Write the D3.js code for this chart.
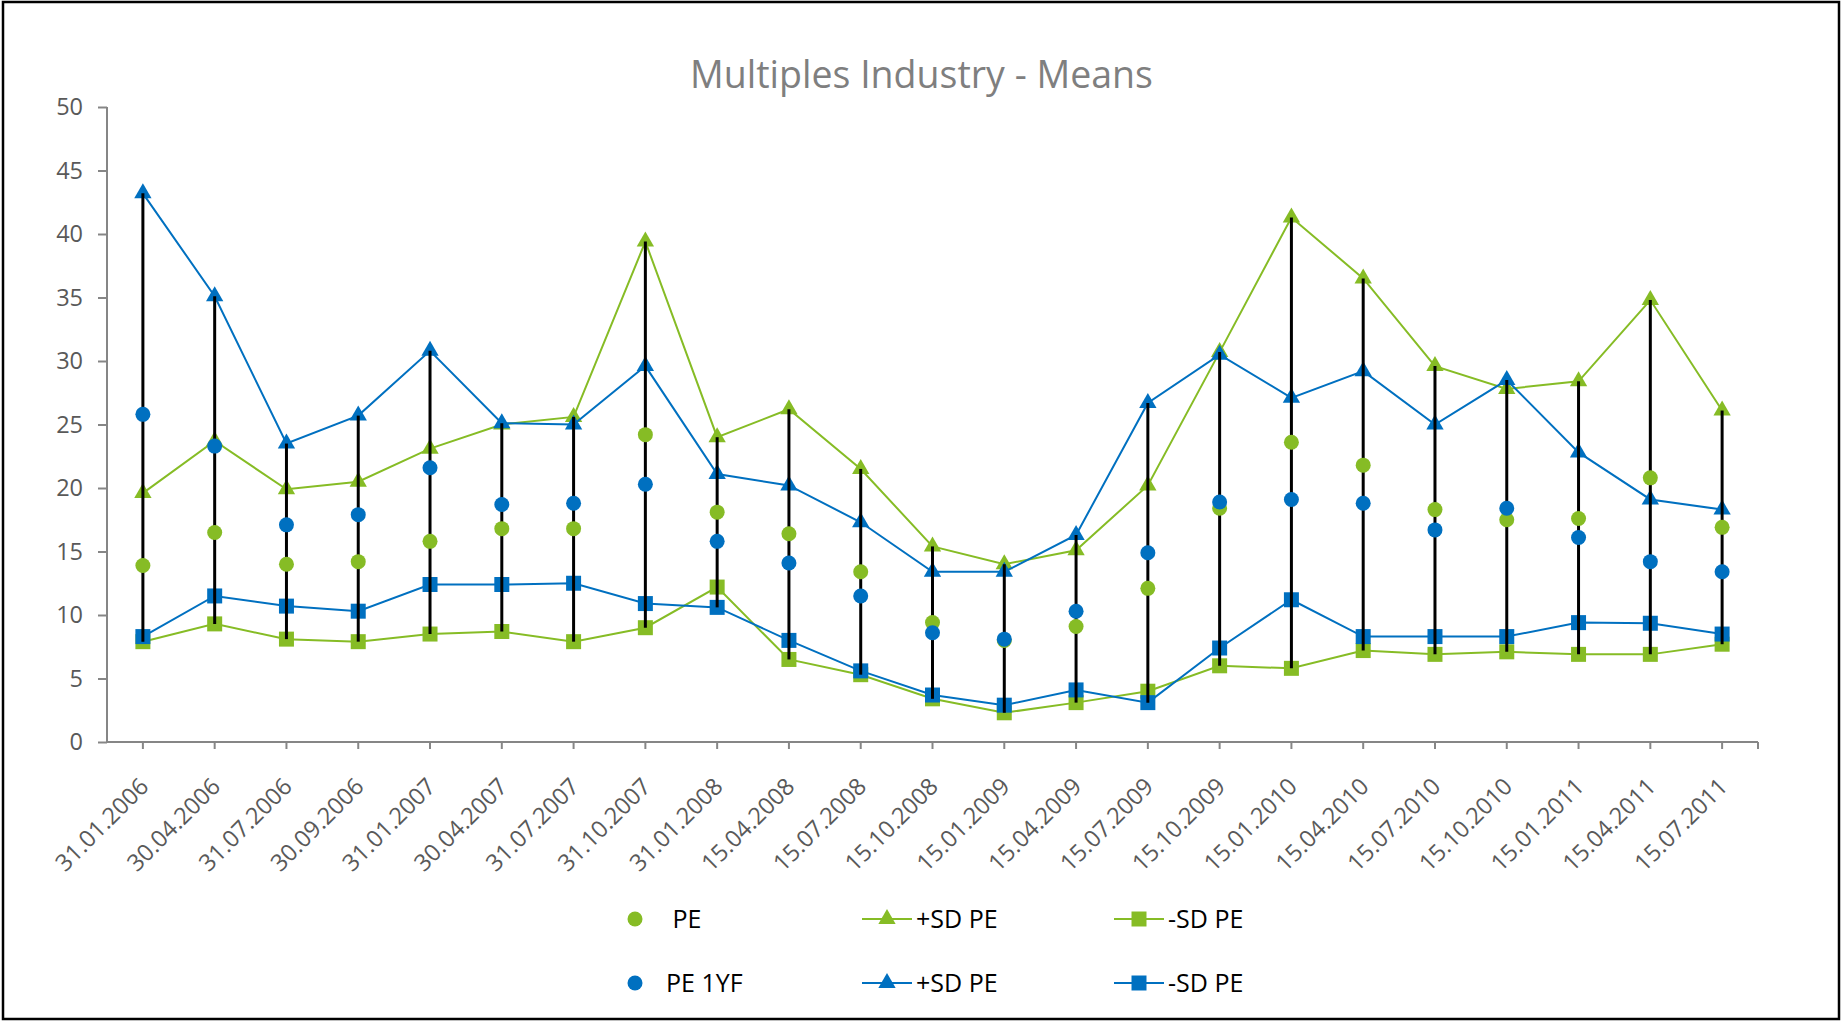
<!DOCTYPE html>
<html>
<head>
<meta charset="utf-8">
<script src="https://cdn.jsdelivr.net/npm/d3@7"></script>
<style>
  body { margin: 0; background: #fff; }
  svg { display: block; font-family: "Open Sans", sans-serif; }
  .legend text { white-space: pre; }
</style>
</head>
<body>
<svg id="chart" width="1843" height="1022"></svg>
<script>
// dates on the x axis
let dates = ['31.01.2006', '30.04.2006', '31.07.2006', '30.09.2006', '31.01.2007', '30.04.2007',
    '31.07.2007', '31.10.2007', '31.01.2008', '15.04.2008', '15.07.2008', '15.10.2008',
    '15.01.2009', '15.04.2009', '15.07.2009', '15.10.2009', '15.01.2010', '15.04.2010',
    '15.07.2010', '15.10.2010', '15.01.2011', '15.04.2011', '15.07.2011'];

let pe = [13.9, 16.5, 14.0, 14.2, 15.8, 16.8, 16.8, 24.2, 18.1, 16.4, 13.4, 9.4,
    8.0, 9.1, 12.1, 18.4, 23.6, 21.8, 18.3, 17.5, 17.6, 20.8, 16.9];
let pePlusSd = [19.6, 23.7, 19.9, 20.5, 23.1, 25.0, 25.6, 39.4, 24.0, 26.2, 21.5, 15.4,
    14.0, 15.1, 20.2, 30.7, 41.3, 36.5, 29.6, 27.8, 28.4, 34.8, 26.1];
let peMinusSd = [7.9, 9.3, 8.1, 7.9, 8.5, 8.7, 7.9, 9.0, 12.2, 6.5, 5.3, 3.4,
    2.3, 3.1, 4.0, 6.0, 5.8, 7.2, 6.9, 7.1, 6.9, 6.9, 7.7];

let pe1yf = [25.8, 23.3, 17.1, 17.9, 21.6, 18.7, 18.8, 20.3, 15.8, 14.1, 11.5, 8.6,
    8.1, 10.3, 14.9, 18.9, 19.1, 18.8, 16.7, 18.4, 16.1, 14.2, 13.4];
let pe1yfPlusSd = [43.2, 35.1, 23.5, 25.7, 30.8, 25.1, 25.0, 29.6, 21.1, 20.2, 17.3, 13.4,
    13.4, 16.3, 26.7, 30.5, 27.1, 29.2, 25.0, 28.5, 22.8, 19.1, 18.3];
let pe1yfMinusSd = [8.3, 11.5, 10.7, 10.3, 12.4, 12.4, 12.5, 10.9, 10.6, 8.0, 5.6, 3.7,
    2.9, 4.1, 3.1, 7.4, 11.2, 8.3, 8.3, 8.3, 9.4, 9.35, 8.5];

let yTicks = [0, 5, 10, 15, 20, 25, 30, 35, 40, 45, 50];

const green = '#86bc25';
const blue = '#0070c0';

// line series (with markers), drawn green first, blue after
let lineSeries = [
    {name: '+SD PE', values: pePlusSd, color: green, symbol: d3.symbolTriangle, size: 130},
    {name: '-SD PE', values: peMinusSd, color: green, symbol: d3.symbolSquare, size: 225},
    {name: '+SD PE', values: pe1yfPlusSd, color: blue, symbol: d3.symbolTriangle, size: 130},
    {name: '-SD PE', values: pe1yfMinusSd, color: blue, symbol: d3.symbolSquare, size: 225}
];
// marker only series
let dotSeries = [
    {name: ' PE', values: pe, color: green},
    {name: 'PE 1YF', values: pe1yf, color: blue}
];

let svg = d3.select('#chart');
let plotLeft = 107, plotRight = 1758, plotTop = 107, plotBottom = 742;

// outer frame
svg.append('rect')
    .attr('x', 3).attr('y', 2)
    .attr('width', 1836).attr('height', 1017)
    .attr('fill', 'none').attr('stroke', '#000').attr('stroke-width', 2.5);

svg.append('text')
    .attr('x', 921.5).attr('y', 88)
    .attr('text-anchor', 'middle')
    .attr('font-size', 37.5)
    .attr('fill', '#7f7f7f')
    .text('Multiples Industry - Means');

let x = d3.scaleBand().domain(dates).range([plotLeft, plotRight]).paddingInner(0).paddingOuter(0);
let y = d3.scaleLinear().domain([0, 50]).range([plotBottom, plotTop]);
let cx = (d) => x(d) + x.bandwidth() / 2;

// y axis
let yAxis = svg.append('g')
    .attr('transform', `translate(${plotLeft},0)`)
    .call(d3.axisLeft(y).tickValues(yTicks).tickSize(9).tickPadding(15));
yAxis.select('.domain').attr('stroke', '#868686').attr('stroke-width', 2)
    .attr('d', `M0,${plotBottom}V${plotTop}`);
yAxis.selectAll('.tick line').attr('stroke', '#868686').attr('stroke-width', 2);
yAxis.selectAll('.tick text').attr('font-size', 23.5).attr('fill', '#595959')
    .attr('font-family', '"Open Sans", sans-serif');

// x axis
let xAxis = svg.append('g')
    .attr('transform', `translate(0,${plotBottom})`)
    .call(d3.axisBottom(x).tickSize(7).tickSizeOuter(0));
xAxis.select('.domain').attr('stroke', '#868686').attr('stroke-width', 2)
    .attr('d', `M${plotLeft},0H${plotRight}`);
xAxis.selectAll('.tick line').attr('stroke', '#868686').attr('stroke-width', 2);
xAxis.selectAll('.tick text')
    .attr('font-size', 23.5).attr('fill', '#595959')
    .attr('font-family', '"Open Sans", sans-serif')
    .attr('text-anchor', 'end')
    .attr('dy', null)
    .attr('y', null)
    .attr('transform', 'translate(7,46) rotate(-45)');
xAxis.append('line')
    .attr('x1', plotRight).attr('x2', plotRight).attr('y1', 0).attr('y2', 7)
    .attr('stroke', '#868686').attr('stroke-width', 2);

let line = d3.line().x((d, i) => cx(dates[i])).y((d) => y(d));

lineSeries.forEach((s) => {
    let g = svg.append('g');
    g.append('path')
        .attr('d', line(s.values))
        .attr('fill', 'none')
        .attr('stroke', s.color)
        .attr('stroke-width', 2);
    g.selectAll('path.mk')
        .data(s.values)
        .enter()
        .append('path')
        .attr('class', 'mk')
        .attr('d', d3.symbol().type(s.symbol).size(s.size))
        .attr('transform', (d, i) => `translate(${cx(dates[i])},${y(d)})`)
        .attr('fill', s.color);
});

// high-low lines
let allSeries = [pe, pePlusSd, peMinusSd, pe1yf, pe1yfPlusSd, pe1yfMinusSd];
svg.append('g').selectAll('line')
    .data(dates)
    .enter()
    .append('line')
    .attr('x1', (d) => cx(d)).attr('x2', (d) => cx(d))
    .attr('y1', (d, i) => y(d3.max(allSeries, (s) => s[i])))
    .attr('y2', (d, i) => y(d3.min(allSeries, (s) => s[i])))
    .attr('stroke', '#000')
    .attr('stroke-width', 3);

dotSeries.forEach((s) => {
    svg.append('g').selectAll('circle')
        .data(s.values)
        .enter()
        .append('circle')
        .attr('cx', (d, i) => cx(dates[i]))
        .attr('cy', (d) => y(d))
        .attr('r', 7.5)
        .attr('fill', s.color);
});

// legend
let legend = svg.append('g').attr('class', 'legend');
let rows = [919, 983];
dotSeries.forEach((s, r) => {
    legend.append('circle').attr('cx', 635).attr('cy', rows[r]).attr('r', 7.5).attr('fill', s.color);
    legend.append('text').attr('x', 666).attr('y', rows[r]).attr('dy', '0.35em')
        .attr('font-size', 25).attr('fill', '#000').text(s.name);
});
let cols = [862, 1114];
lineSeries.forEach((s, k) => {
    let r = k < 2 ? 0 : 1;
    let c = cols[k % 2];
    legend.append('line')
        .attr('x1', c).attr('x2', c + 50)
        .attr('y1', rows[r]).attr('y2', rows[r])
        .attr('stroke', s.color).attr('stroke-width', 2);
    legend.append('path')
        .attr('d', d3.symbol().type(s.symbol).size(s.size))
        .attr('transform', `translate(${c + 25},${rows[r]})`)
        .attr('fill', s.color);
    legend.append('text').attr('x', c + 54).attr('y', rows[r]).attr('dy', '0.35em')
        .attr('font-size', 25).attr('fill', '#000').text(s.name);
});
</script>
</body>
</html>
